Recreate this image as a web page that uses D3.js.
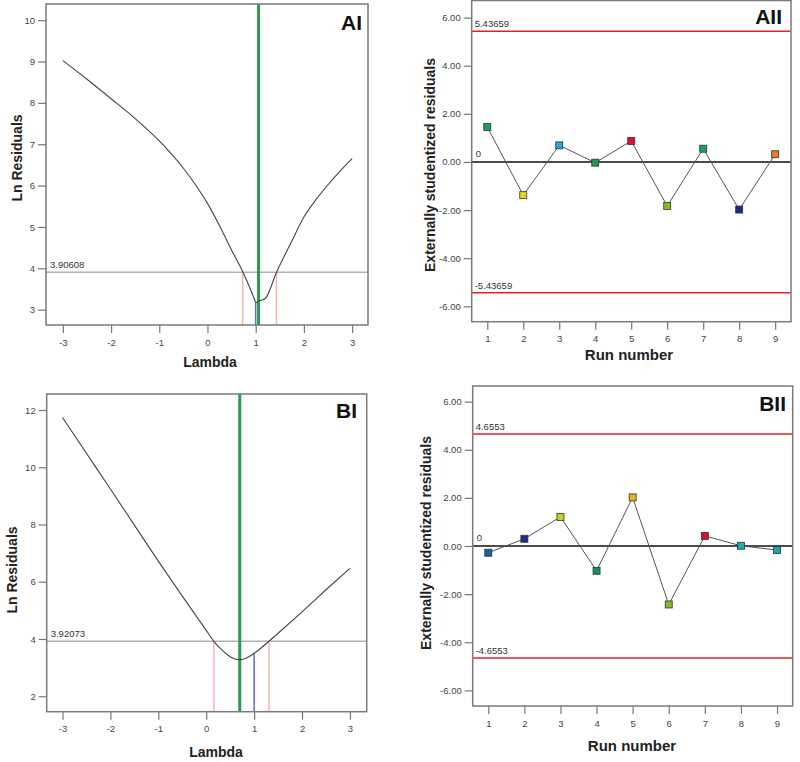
<!DOCTYPE html>
<html><head><meta charset="utf-8">
<script src="https://cdn.jsdelivr.net/npm/d3@7/dist/d3.min.js"></script>
<style>
body{margin:0;background:#fff;}
svg{display:block;}
.tick text{font-family:"Liberation Sans",Arial,sans-serif;font-size:9.5px;fill:#444;}
.tick line{stroke:#777;stroke-width:1.2;}
.ttl{font-family:"Liberation Sans",Arial,sans-serif;font-weight:bold;font-size:14px;fill:#222;}
.plab{font-family:"Liberation Sans",Arial,sans-serif;font-weight:bold;font-size:21px;fill:#111;}
.vlab{font-family:"Liberation Sans",Arial,sans-serif;font-size:9.5px;fill:#333;}
</style></head>
<body>
<svg id="c" width="800" height="762"></svg>
<script>
// ---- Data ----
const lambdaA = [-3, -2.5, -2, -1.5, -1, -0.5, -0.25, 0, 0.25, 0.5, 0.74, 0.9, 1.0, 1.1, 1.2, 1.43, 1.75, 2, 2.25, 2.5, 2.75, 3];
const lnResA  = [9.02, 8.57, 8.10, 7.62, 7.08, 6.42, 6.02, 5.57, 5.03, 4.44, 3.90, 3.47, 3.17, 3.22, 3.27, 3.90, 4.66, 5.24, 5.66, 6.02, 6.35, 6.65];
const lambdaB = [-3, -2.5, -2, -1.5, -1, -0.5, 0, 0.16, 0.3, 0.5, 0.6, 0.7, 0.8, 1.0, 1.31, 1.5, 2, 2.5, 3];
const lnResB  = [11.74, 10.49, 9.24, 7.98, 6.72, 5.50, 4.30, 3.92, 3.66, 3.38, 3.30, 3.28, 3.31, 3.50, 3.92, 4.20, 4.95, 5.72, 6.47];
const ciA = 3.90608, ciB = 3.92073;
const bestA = 1.06, lowA = 0.73, highA = 1.43, currentA = 1.0, currentResA = 3.17;
const bestB = 0.70, lowB = 0.16, highB = 1.31, currentB = 1.0, currentResB = 3.51;

const runs = [1, 2, 3, 4, 5, 6, 7, 8, 9];
const residA = [1.45, -1.38, 0.69, -0.03, 0.87, -1.83, 0.55, -1.98, 0.32];
const residB = [-0.28, 0.30, 1.21, -1.03, 2.02, -2.43, 0.42, 0.01, -0.17];
const colorsA = ["#1a9e5c", "#e6d421", "#27a9d9", "#1a9a46", "#e0102c", "#7fbc24", "#139e82", "#1b2d83", "#f07a22"];
const colorsB = ["#1f5fae", "#1b2f86", "#c8cf1c", "#109068", "#e8b21e", "#8eb822", "#d81032", "#1ea8b2", "#1ea5a8"];
const limitA = 5.43659, limitB = 4.6553;

const lambdaTicks = [-3, -2, -1, 0, 1, 2, 3];
const lnTicksA = [3, 4, 5, 6, 7, 8, 9, 10];
const lnTicksB = [2, 4, 6, 8, 10, 12];
const residTicks = [-6, -4, -2, 0, 2, 4, 6];

const svg = d3.select("#c");
const hy = f => d => f(d).replace("\u2212", "-");

function frame(g, x, y) {
  const [x0, x1] = x.range(), [y0, y1] = y.range();
  g.append("rect").attr("x", x0).attr("y", y1).attr("width", x1 - x0).attr("height", y0 - y1)
    .attr("fill", "none").attr("stroke", "#7a7a7a").attr("stroke-width", 1.5);
}
function axes(g, x, y, xt, yt, yfmt) {
  const [x0] = x.range(), [y0] = y.range();
  g.append("g").attr("transform", `translate(0,${y0})`)
    .call(d3.axisBottom(x).tickValues(xt).tickSize(8).tickPadding(6).tickFormat(hy(d3.format("d"))))
    .call(s => s.select(".domain").remove());
  g.append("g").attr("transform", `translate(${x0},0)`)
    .call(d3.axisLeft(y).tickValues(yt).tickSize(8).tickPadding(3).tickFormat(hy(yfmt)))
    .call(s => s.select(".domain").remove());
}

function boxcox(p) {
  const g = svg.append("g");
  const x = d3.scaleLinear().domain(p.xd).range(p.xr);
  const y = d3.scaleLinear().domain(p.yd).range(p.yr);
  const [x0, x1] = x.range(), [yb] = y.range();
  axes(g, x, y, lambdaTicks, p.yticks, d3.format("d"));
  g.append("line").attr("x1", x0).attr("x2", x1).attr("y1", y(p.ci)).attr("y2", y(p.ci))
    .attr("stroke", "#b0b0b0").attr("stroke-width", 1.5);
  g.append("text").attr("class", "vlab").attr("x", x0 + 4).attr("y", y(p.ci) - 4).text(String(p.ci));
  [p.low, p.high].forEach(v => {
    g.append("line").attr("x1", x(v)).attr("x2", x(v)).attr("y1", yb).attr("y2", y(p.ci))
      .attr("stroke", "#f5b4b4").attr("stroke-width", 1.5);
  });
  g.append("line").attr("x1", x(p.cur)).attr("x2", x(p.cur)).attr("y1", yb).attr("y2", y(p.curRes))
    .attr("stroke", "#5a6cc4").attr("stroke-width", 1.5);
  g.append("line").attr("x1", x(p.best)).attr("x2", x(p.best)).attr("y1", yb).attr("y2", y(p.yd[1]))
    .attr("stroke", "#2a9a4c").attr("stroke-width", 3);
  const pts = p.lam.map((l, i) => [l, p.res[i]]);
  const segs = p.split == null ? [pts] : [pts.slice(0, p.split + 1), pts.slice(p.split)];
  const ln = d3.line().x(d => x(d[0])).y(d => y(d[1])).curve(d3.curveMonotoneX);
  segs.forEach(s => g.append("path").datum(s).attr("d", ln)
    .attr("fill", "none").attr("stroke", "#444").attr("stroke-width", 1.1));
  frame(g, x, y);
  g.append("text").attr("class", "ttl").attr("text-anchor", "middle").attr("x", p.xt[0]).attr("y", p.xt[1]).text("Lambda");
  g.append("text").attr("class", "ttl").attr("text-anchor", "middle")
    .attr("transform", `translate(${p.yt[0]},${p.yt[1]}) rotate(-90)`).text("Ln Residuals");
  g.append("text").attr("class", "plab").attr("text-anchor", "end").attr("x", p.lab[0]).attr("y", p.lab[1]).text(p.label);
}

function resid(p) {
  const g = svg.append("g");
  const x = d3.scaleLinear().domain(p.xd).range(p.xr);
  const y = d3.scaleLinear().domain(p.yd).range(p.yr);
  const [x0, x1] = x.range();
  axes(g, x, y, runs, residTicks, d3.format(".2f"));
  [p.limit, -p.limit].forEach(v => {
    g.append("line").attr("x1", x0).attr("x2", x1).attr("y1", y(v)).attr("y2", y(v))
      .attr("stroke", "#e3202a").attr("stroke-width", 1.5);
    g.append("text").attr("class", "vlab").attr("x", x0 + 3).attr("y", y(v) - 4).text(v.toString());
  });
  g.append("line").attr("x1", x0).attr("x2", x1).attr("y1", y(0)).attr("y2", y(0))
    .attr("stroke", "#111").attr("stroke-width", 1.5);
  g.append("text").attr("class", "vlab").attr("x", x0 + 4).attr("y", y(0) - 5).text("0");
  g.append("path").datum(runs.map((r, i) => [r, p.vals[i]]))
    .attr("d", d3.line().x(d => x(d[0])).y(d => y(d[1])))
    .attr("fill", "none").attr("stroke", "#555").attr("stroke-width", 1);
  g.selectAll("rect.m").data(runs).enter().append("rect").attr("class", "m")
    .attr("x", (d, i) => x(d) - 3.5).attr("y", (d, i) => y(p.vals[i]) - 3.5)
    .attr("width", 7).attr("height", 7)
    .attr("fill", (d, i) => p.colors[i]).attr("stroke", "#333").attr("stroke-width", 0.8);
  frame(g, x, y);
  g.append("text").attr("class", "ttl").style("font-size", "15px").attr("text-anchor", "middle").attr("x", p.xt[0]).attr("y", p.xt[1]).text("Run number");
  g.append("text").attr("class", "ttl").attr("text-anchor", "middle")
    .attr("transform", `translate(${p.yt[0]},${p.yt[1]}) rotate(-90)`).text("Externally studentized residuals");
  g.append("text").attr("class", "plab").attr("text-anchor", "end").attr("x", p.lab[0]).attr("y", p.lab[1]).text(p.label);
}

boxcox({xd: [-3.35, 3.33], xr: [46, 368], yd: [2.63, 10.39], yr: [325, 4], yticks: lnTicksA,
  lam: lambdaA, res: lnResA, ci: ciA, best: bestA, low: lowA, high: highA, cur: currentA, curRes: currentResA,
  split: lambdaA.indexOf(1.0), xt: [210, 367], yt: [22, 158], lab: [362, 30], label: "AI"});
resid({xd: [0.567, 9.44], xr: [471.7, 791], yd: [-6.64, 6.71], yr: [321.7, 0.5],
  vals: residA, colors: colorsA, limit: limitA, xt: [629, 360], yt: [435, 165], lab: [782, 24], label: "AII"});
boxcox({xd: [-3.33, 3.35], xr: [46.7, 366.7], yd: [1.46, 12.56], yr: [711.7, 394], yticks: lnTicksB,
  lam: lambdaB, res: lnResB, ci: ciB, best: bestB, low: lowB, high: highB, cur: currentB, curRes: currentResB,
  split: null, xt: [216, 757], yt: [17, 570], lab: [357, 418], label: "BI"});
resid({xd: [0.568, 9.435], xr: [472.7, 792.7], yd: [-6.65, 6.65], yr: [706, 386],
  vals: residB, colors: colorsB, limit: limitB, xt: [632, 751], yt: [431, 543], lab: [786, 411], label: "BII"});
</script>
</body></html>
